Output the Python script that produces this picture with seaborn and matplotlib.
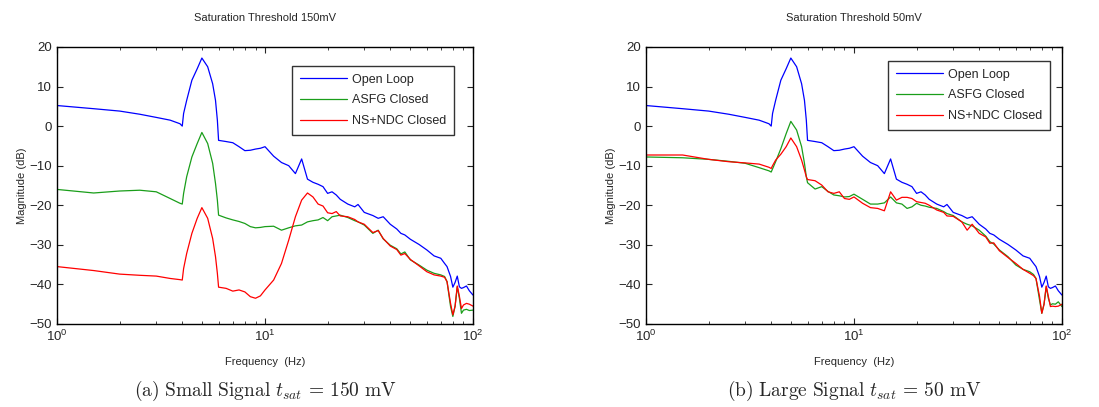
import matplotlib
matplotlib.use("Agg")
import matplotlib.pyplot as plt
import seaborn as sns
import pandas as pd
from matplotlib.ticker import LogLocator, NullFormatter

# frequency grid (Hz) shared by every curve
freq = [1, 1.5, 2, 2.5, 3, 3.5, 3.9, 4, 4.06, 4.2, 4.45, 4.72, 4.97, 5.3, 5.6, 5.78, 5.9, 5.98,
        6.5, 7, 7.5, 8, 8.5, 9, 9.5, 10, 11, 12, 13, 14, 15, 16, 17, 18, 19, 20,
        21, 22, 23, 25, 27, 28, 30, 33, 35, 37, 40, 43, 45, 47, 50,
        55, 60, 65, 70, 73, 75, 78, 80, 82, 84, 86, 88, 90, 93, 96, 100]

open_loop = [5.2, 4.4, 3.8, 3.0, 2.2, 1.5, 0.6, 0.0, 3.2, 6.5, 11.6, 14.5, 17.2, 15.0, 10.7, 6.5, 1.5, -3.6,
             -3.9, -4.2, -5.2, -6.2, -6.1, -5.8, -5.6, -5.2, -7.6, -9.2, -10.0, -12.0, -8.3, -13.4, -14.2, -14.7, -15.3, -17.0,
             -16.6, -17.4, -18.5, -19.7, -20.4, -19.8, -21.8, -22.6, -23.3, -22.9, -24.8, -26.0, -27.1, -27.5, -28.6,
             -29.9, -31.3, -32.8, -33.4, -34.7, -35.5, -38.0, -40.7, -39.5, -37.9, -40.6, -41.0, -40.8, -40.4, -41.6, -42.7]

asfg_150 = [-16.0, -16.9, -16.4, -16.2, -16.6, -18.3, -19.5, -19.7, -17.0, -12.8, -7.8, -4.4, -1.6, -4.4, -9.4, -14.5, -18.7, -22.5,
            -23.2, -23.7, -24.1, -24.6, -25.4, -25.7, -25.6, -25.4, -25.3, -26.3, -25.7, -25.2, -25.0, -24.2, -23.9, -23.7, -23.1, -23.9,
            -22.9, -22.7, -22.5, -23.1, -23.9, -24.2, -25.0, -27.1, -26.3, -28.5, -30.1, -31.0, -32.3, -31.8, -33.8,
            -35.1, -36.4, -37.2, -37.6, -38.0, -39.3, -45.6, -48.1, -45.5, -40.6, -43.5, -47.3, -46.5, -46.3, -46.6, -46.5]

nsndc_150 = [-35.5, -36.5, -37.4, -37.7, -37.9, -38.5, -38.8, -38.9, -36.0, -32.2, -27.1, -23.3, -20.6, -23.3, -28.4, -33.0, -37.2, -40.7,
             -41.0, -41.7, -41.4, -41.9, -43.1, -43.5, -42.9, -41.4, -38.9, -34.7, -28.8, -22.9, -18.7, -16.9, -17.9, -19.7, -20.2, -21.9,
             -22.1, -21.6, -22.7, -22.9, -23.6, -24.2, -24.8, -26.9, -26.4, -28.4, -30.3, -31.2, -32.6, -32.2, -33.7,
             -35.3, -36.8, -37.6, -37.9, -38.2, -39.3, -44.8, -47.7, -45.5, -40.4, -43.0, -46.1, -45.2, -44.8, -45.0, -45.5]

asfg_50 = [-7.8, -8.0, -8.4, -8.9, -9.4, -10.5, -11.3, -11.6, -10.8, -9.0, -5.7, -1.9, 1.2, -1.0, -5.2, -9.4, -12.8, -14.3,
           -15.9, -15.3, -16.5, -17.4, -17.6, -17.9, -17.8, -17.2, -18.5, -19.7, -19.7, -19.4, -17.9, -19.4, -19.7, -20.8, -20.4, -19.5,
           -20.0, -20.2, -20.5, -20.8, -21.6, -22.1, -22.6, -24.2, -24.8, -25.2, -26.3, -27.8, -29.2, -29.8, -31.3,
           -33.0, -35.1, -36.2, -36.8, -37.5, -38.5, -43.9, -47.3, -45.0, -40.6, -43.5, -45.2, -44.9, -45.0, -44.4, -45.6]

nsndc_50 = [-7.3, -7.3, -8.4, -9.0, -9.3, -9.6, -10.4, -10.7, -10.0, -8.6, -7.1, -5.2, -3.0, -5.2, -8.6, -11.1, -12.8, -13.5,
            -13.8, -14.9, -16.6, -17.0, -16.6, -18.3, -18.5, -17.9, -19.5, -20.6, -20.8, -21.4, -16.6, -18.7, -18.0, -18.0, -18.3, -19.1,
            -19.3, -19.5, -20.0, -21.2, -21.8, -22.7, -22.8, -24.2, -26.3, -24.8, -27.1, -28.0, -29.6, -29.5, -31.5,
            -33.2, -34.7, -36.2, -37.2, -37.8, -38.5, -43.0, -47.3, -45.0, -40.4, -43.0, -45.6, -45.5, -45.6, -45.5, -45.0]

labels = ["Open Loop", "ASFG Closed", "NS+NDC Closed"]
colors = ["#0000ff", "#1a9e1a", "#ff0000"]
titles = ["Saturation Threshold 150mV", "Saturation Threshold 50mV"]
captions = [r"$\mathrm{(a)\ Small\ Signal\ }t_{sat}\,=\,150\ \mathrm{mV}$",
            r"$\mathrm{(b)\ Large\ Signal\ }t_{sat}\,=\,50\ \mathrm{mV}$"]
panels = [[open_loop, asfg_150, nsndc_150], [open_loop, asfg_50, nsndc_50]]

sns.set_style("ticks")
plt.rcParams['font.family'] = ['Liberation Sans', 'DejaVu Sans']
plt.rcParams['mathtext.fontset'] = 'cm'
plt.rcParams['xtick.direction'] = 'in'
plt.rcParams['ytick.direction'] = 'in'

fig = plt.figure(figsize=(10.99, 4.07), dpi=100)
lefts = [0.0519, 0.5878]
legend_anchor = [(0.954, 0.931), (0.971, 0.949)]

for i in range(2):
    ax = fig.add_axes([lefts[i], 0.204, 0.3785, 0.6806])
    for vals, lab, col in zip(panels[i], labels, colors):
        df = pd.DataFrame({"f": freq, "mag": vals})
        sns.lineplot(data=df, x="f", y="mag", ax=ax, color=col, label=lab, lw=0.9)
    ax.set_xscale("log")
    ax.set_xlim(1, 100)
    ax.set_ylim(-50, 20)
    ax.set_yticks(range(-50, 21, 10))
    ax.xaxis.set_minor_locator(LogLocator(base=10, subs=range(2, 10)))
    ax.xaxis.set_minor_formatter(NullFormatter())
    ax.tick_params(which="both", top=True, right=True, labelsize=9.5, length=4)
    ax.tick_params(which="minor", length=2.5)
    for s in ax.spines.values():
        s.set_linewidth(1.0)
        s.set_color("black")
    ax.set_title(titles[i], fontsize=8, pad=19)
    ax.set_xlabel("Frequency  (Hz)", fontsize=8, labelpad=9)
    ax.set_ylabel("Magnitude (dB)", fontsize=8, labelpad=2)
    leg = ax.legend(loc="upper right", bbox_to_anchor=legend_anchor[i], fontsize=9,
                    frameon=True, fancybox=False, edgecolor="black", handlelength=3.8,
                    handletextpad=0.4, borderpad=0.6, labelspacing=0.7, borderaxespad=0)
    leg.get_frame().set_linewidth(1.0)
    fig.text(lefts[i] + 0.3785 / 2, 0.04, captions[i], ha="center", va="center", fontsize=14)

fig.savefig("out.png", dpi=100)
